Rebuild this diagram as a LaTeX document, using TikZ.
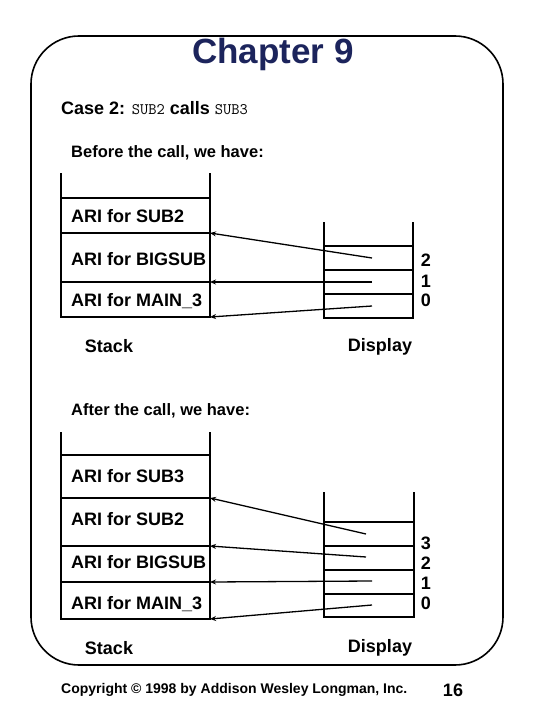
\documentclass[tikz,border=0pt]{standalone}
\usepackage{fontspec}
\setmainfont{Liberation Sans}
\usetikzlibrary{arrows.meta}
\definecolor{navy}{RGB}{28,36,92}
\begin{document}
\begin{tikzpicture}[x=1pt,y=-1pt,
  box/.style={line width=1.6pt},
  ptr/.style={line width=1.3pt,-{Stealth[length=6pt,width=5pt]}},
  lab/.style={font=\bfseries\fontsize{18}{20}\selectfont, inner sep=0pt, anchor=west},
  clab/.style={font=\bfseries\fontsize{18}{20}\selectfont, inner sep=0pt}]
\useasboundingbox (0,0) rectangle (540,720);
\draw[line width=1.6pt, rounded corners=48pt] (31,36) rectangle (503,665);
\node[font=\bfseries\fontsize{35}{38}\selectfont, text=navy, inner sep=0pt] (title) at (273,54) {Chapter 9};
\node[lab] (case) at (61,108) {Case 2: {\mdseries\ttfamily\fontsize{16}{18}\selectfont SUB2} calls {\mdseries\ttfamily\fontsize{16}{18}\selectfont SUB3}};
\node[lab, font=\bfseries\fontsize{16.5}{19}\selectfont] (before) at (71,153) {Before the call, we have:};

% upper stack
\draw[box] (61,173) -- (61,317) -- (210,317) -- (210,173);
\draw[box] (61,198) -- (210,198);
\draw[box] (61,233) -- (210,233);
\draw[box] (61,282) -- (210,282);
\node[lab] (u1) at (71,216) {ARI for SUB2};
\node[lab] (u2) at (71,259) {ARI for BIGSUB};
\node[lab] (u3) at (71,301) {ARI for MAIN\_3};
\coordinate (ut1) at (210,233);
\coordinate (ut2) at (210,282);
\coordinate (ut3) at (210,317);
% upper display
\draw[box] (324,222) -- (324,318) -- (413,318) -- (413,222);
\draw[box] (324,246) -- (413,246);
\draw[box] (324,270) -- (413,270);
\draw[box] (324,294) -- (413,294);
\node[clab] (un2) at (426,260) {2};
\node[clab] (un1) at (426,281) {1};
\node[clab] (un0) at (426,300) {0};
\coordinate (ud2) at (372,258);
\coordinate (ud1) at (372,282);
\coordinate (ud0) at (372,306);
\draw[ptr] (ud2) -- (ut1);
\draw[ptr] (ud1) -- (ut2);
\draw[ptr] (ud0) -- (ut3);
\node[clab] (ustack) at (109,346) {Stack};
\node[clab] (udisp) at (380,347) {Display};

\node[lab, font=\bfseries\fontsize{16.5}{19}\selectfont] (after) at (71,411) {After the call, we have:};

% lower stack
\draw[box] (61,432) -- (61,619) -- (210,619) -- (210,432);
\draw[box] (61,455) -- (210,455);
\draw[box] (61,498) -- (210,498);
\draw[box] (61,546) -- (210,546);
\draw[box] (61,582) -- (210,582);
\node[lab] (l1) at (71,476) {ARI for SUB3};
\node[lab] (l2) at (71,519) {ARI for SUB2};
\node[lab] (l3) at (71,562) {ARI for BIGSUB};
\node[lab] (l4) at (71,604) {ARI for MAIN\_3};
\coordinate (lt1) at (210,498);
\coordinate (lt2) at (210,546);
\coordinate (lt3) at (210,582);
\coordinate (lt4) at (210,619);
% lower display
\draw[box] (324,492) -- (324,617) -- (414,617) -- (414,492);
\draw[box] (324,522) -- (414,522);
\draw[box] (324,546) -- (414,546);
\draw[box] (324,570) -- (414,570);
\draw[box] (324,594) -- (414,594);
\node[clab] (ln3) at (426,543) {3};
\node[clab] (ln2) at (426,563) {2};
\node[clab] (ln1) at (426,583) {1};
\node[clab] (ln0) at (426,603) {0};
\coordinate (ld3) at (366,534);
\coordinate (ld2) at (366,557);
\coordinate (ld1) at (372,581);
\coordinate (ld0) at (372,605);
\draw[ptr] (ld3) -- (lt1);
\draw[ptr] (ld2) -- (lt2);
\draw[ptr] (ld1) -- (lt3);
\draw[ptr] (ld0) -- (lt4);
\node[clab] (lstack) at (109,648) {Stack};
\node[clab] (ldisp) at (380,648) {Display};

\node[lab, font=\bfseries\fontsize{14}{16}\selectfont] (copy) at (61,690) {Copyright © 1998 by Addison Wesley Longman, Inc.};
\node[clab] (page) at (453,690) {16};
\end{tikzpicture}
\end{document}
